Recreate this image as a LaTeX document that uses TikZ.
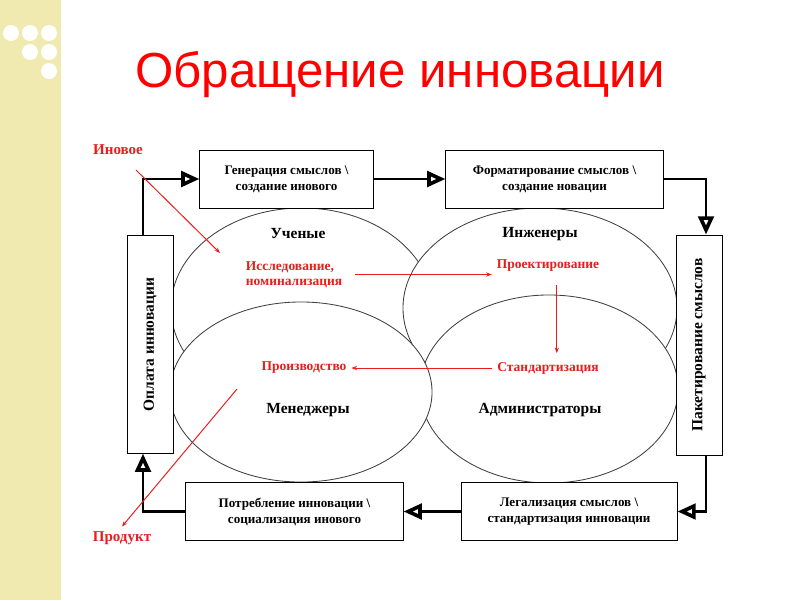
\documentclass[tikz,border=0pt]{standalone}
\usepackage{fontspec}
\setmainfont{Liberation Serif}
\newfontfamily\headfont{Liberation Sans}
\usetikzlibrary{shapes.geometric,arrows.meta}

\definecolor{stripyellow}{RGB}{240,233,176}
\definecolor{notered}{RGB}{230,30,30}

\begin{document}
\begin{tikzpicture}[x=0.025cm, y=-0.025cm,
    field/.style = {ellipse, draw = black!75, fill = white, line width = 0.6pt, inner sep = 0pt},
    procbox/.style = {draw = black, fill = white, line width = 0.6pt, align = center,
        font = \bfseries\fontsize{9.3}{11.4}\selectfont},
    sidebox/.style = {procbox, rotate = 90, font = \bfseries\fontsize{11}{13}\selectfont},
    role/.style = {font = \bfseries\fontsize{11}{13}\selectfont},
    stage/.style = {text = notered, font = \bfseries\fontsize{9.6}{10.7}\selectfont, align = left},
    tag/.style = {text = notered, font = \bfseries\fontsize{10.7}{12}\selectfont},
    flow/.style = {line width = 2.1pt, -{Triangle[open, length = 13pt, width = 11pt, line width = 2.6pt]}},
    redarrow/.style = {draw = notered, line width = 0.7pt, -{Stealth[length = 4pt, width = 3pt]}}]

    \useasboundingbox (0,0) rectangle (800,600);

    \fill[stripyellow] (0,0) rectangle (61,600);
    \fill[white] (11,33) circle (0.2cm);
    \fill[white] (30,33) circle (0.2cm);
    \fill[white] (49,33) circle (0.2cm);
    \fill[white] (30,52) circle (0.2cm);
    \fill[white] (49,52) circle (0.2cm);
    \fill[white] (49,71) circle (0.2cm);

    \node[text = red, font = \headfont\fontsize{35}{40}\selectfont] (title) at (400,75) {Обращение инновации};


    \node[field, minimum width = 6.55cm, minimum height = 5cm] (uch) at (302,308) {};
    \node[field, minimum width = 6.85cm, minimum height = 5cm] (inzh) at (540,308) {};
    \node[field, minimum width = 6.45cm, minimum height = 4.7cm] (adm) at (549,389) {};
    \node[field, minimum width = 6.55cm, minimum height = 4.5cm] (men) at (301,392) {};

    \node[role] (uchl) at (298,234) {Ученые};
    \node[role] (inzhl) at (540,234) {Инженеры};
    \node[role] (menl) at (308,410) {Менеджеры};
    \node[role] (adml) at (540,410) {Администраторы};


    \node[procbox, minimum width = 4.33cm, minimum height = 1.45cm] (gen) at (286.5,179) {Генерация смыслов \textbackslash\\создание инового};
    \node[procbox, minimum width = 5.43cm, minimum height = 1.45cm] (fmt) at (554.5,179) {Форматирование смыслов \textbackslash\\создание новации};
    \node[procbox, minimum width = 5.43cm, minimum height = 1.43cm] (potr) at (294.5,511.5) {Потребление инновации \textbackslash\\социализация инового};
    \node[procbox, minimum width = 5.4cm, minimum height = 1.43cm] (leg) at (569,511.5) {Легализация смыслов \textbackslash\\стандартизация инновации};

    \node[sidebox, minimum width = 5.43cm, minimum height = 1.15cm] (opl) at (150,344.5) {Оплата инновации};
    \node[sidebox, minimum width = 5.5cm, minimum height = 1.15cm] (pak) at (699,345) {Пакетирование смыслов};


    \node[stage] (issl) at (294,274.5) {Исследование,\\номинализация};
    \node[stage] (proekt) at (548,266) {Проектирование};
    \node[stage] (stand) at (548,368) {Стандартизация};
    \node[stage] (proiz) at (304,368) {Производство};

    \node[tag] (inov) at (118,150) {Иновое};
    \node[tag] (prod) at (122,538) {Продукт};

    \coordinate (inovfrom) at (136,170);
    \coordinate (inovto) at (220,253);
    \coordinate (prodfrom) at (237,389);


    \draw[flow] ([xshift = -0.175cm]opl.east) |- (gen.west);
    \draw[flow] (gen.east) to (fmt.west);
    \draw[flow] (fmt.east) -| ([xshift = 0.175cm]pak.east);
    \draw[flow] ([xshift = 0.175cm]pak.west) |- (leg.east);
    \draw[flow] (leg.west) to (potr.east);
    \draw[flow] (potr.west) -| ([xshift = -0.175cm]opl.west);

    \draw[redarrow] (inovfrom) to (inovto);
    \draw[redarrow, shorten < = 0.2cm] (issl.east) to (issl.east -| proekt.west);
    \draw[redarrow, shorten < = 0.2cm, shorten > = 0.1cm] ([xshift = 0.22cm]proekt.south) to ([xshift = 0.22cm]proekt.south |- stand.north);
    \draw[redarrow] (stand.west) to (proiz.east);
    \draw[redarrow] (prodfrom) to (prod.north);
  \end{tikzpicture}
\end{document}
